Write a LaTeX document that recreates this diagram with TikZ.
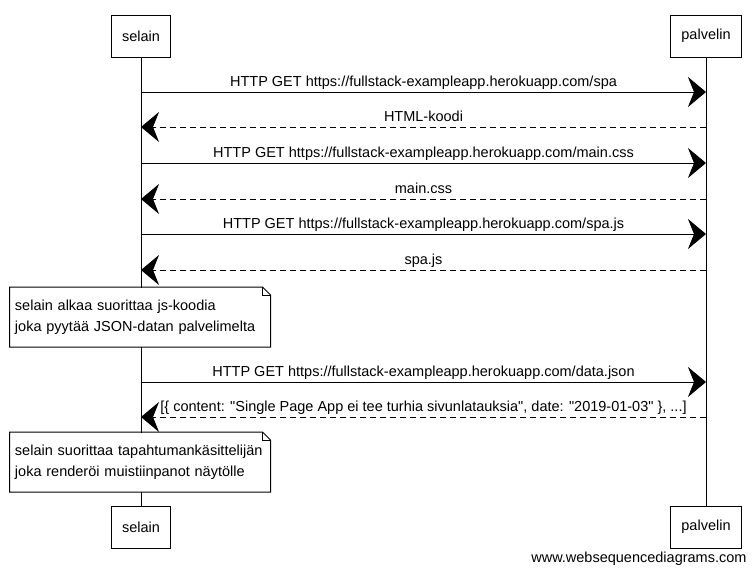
\documentclass[tikz,border=0pt]{standalone}
\usepackage{fontspec}
\setmainfont{Liberation Sans}
\usetikzlibrary{arrows.meta}
\begin{document}
\begin{tikzpicture}[x=1pt,y=-1pt,line width=1pt,
		font=\fontsize{14.5}{21}\selectfont,
		actor/.style={draw,fill=white,minimum height=42pt,inner xsep=11pt},
		note/.style={fill=white,align=left,text width=250pt,inner xsep=5pt,minimum height=59pt,
			execute at begin node={\hyphenpenalty=10000}},
		msg/.style={-{Stealth[length=18pt,width=30pt,inset=6pt]}},
		reply/.style={msg,dash pattern=on 6pt off 4pt},
		lbl/.style={midway,anchor=base,inner sep=0pt,yshift=5.5pt} ]
	\useasboundingbox (0,0) rectangle (756,573);
	\node [actor] (s1) at (141,36) {selain};
	\node [actor] (p1) at (706,36) {palvelin};
	\node [actor] (s2) at (141,527) {selain};
	\node [actor] (p2) at (706,527) {palvelin};
	\draw (s1) -- (s2);
	\draw (p1) -- (p2);
	% pyynnot ja vastaukset
	\draw [msg] (s1 |- 0,92) -- (p1 |- 0,92) node [lbl] {HTTP GET https://fullstack-exampleapp.herokuapp.com/spa};
	\draw [reply] (p1 |- 0,127) -- (s1 |- 0,127) node [lbl] {HTML-koodi};
	\draw [msg] (s1 |- 0,163) -- (p1 |- 0,163) node [lbl] {HTTP GET https://fullstack-exampleapp.herokuapp.com/main.css};
	\draw [reply] (p1 |- 0,199) -- (s1 |- 0,199) node [lbl] {main.css};
	\draw [msg] (s1 |- 0,234) -- (p1 |- 0,234) node [lbl] {HTTP GET https://fullstack-exampleapp.herokuapp.com/spa.js};
	\draw [reply] (p1 |- 0,270) -- (s1 |- 0,270) node [lbl] {spa.js};
	\node [note] (n1) at (140,317) {selain alkaa suorittaa js-koodia\\joka pyytää JSON-datan palvelimelta};
	\draw (n1.north west) -- ([xshift=-8pt]n1.north east) -- ([yshift=-8pt]n1.north east) -- (n1.south east) -- (n1.south west) -- cycle;
	\draw ([xshift=-8pt]n1.north east) |- ([yshift=-8pt]n1.north east);
	\draw [msg] (s1 |- 0,382) -- (p1 |- 0,382) node [lbl] {HTTP GET https://fullstack-exampleapp.herokuapp.com/data.json};
	\draw [reply] (p1 |- 0,417) -- (s1 |- 0,417) node [lbl] {[\{ content: \textquotedbl Single Page App ei tee turhia sivunlatauksia\textquotedbl, date: \textquotedbl 2019-01-03\textquotedbl\ \}, ...]};
	\node [note] (n2) at (140,462) {selain suorittaa tapahtumankäsittelijän\\joka renderöi muistiinpanot näytölle};
	\draw (n2.north west) -- ([xshift=-8pt]n2.north east) -- ([yshift=-8pt]n2.north east) -- (n2.south east) -- (n2.south west) -- cycle;
	\draw ([xshift=-8pt]n2.north east) |- ([yshift=-8pt]n2.north east);
	\node [anchor=east,inner sep=0pt] (wsd) at (747,559) {www.websequencediagrams.com};
\end{tikzpicture}
\end{document}
